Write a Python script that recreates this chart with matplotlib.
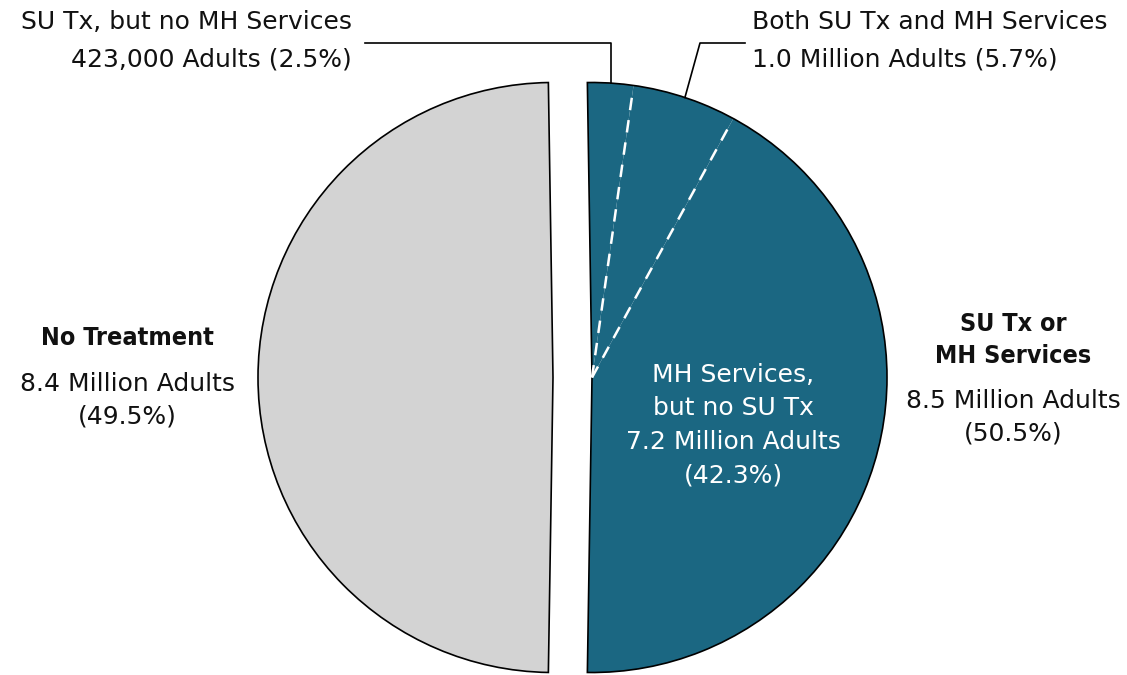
import numpy as np
import matplotlib
matplotlib.use('Agg')
import matplotlib.pyplot as plt
from matplotlib.patches import Wedge

plt.rcParams['font.family'] = ['DejaVu Sans']

# slices, clockwise from the top
labels = ['SU Tx, but no MH Services', 'Both SU Tx and MH Services',
          'MH Services, but no SU Tx', 'No Treatment']
counts = ['423,000 Adults', '1.0 Million Adults', '7.2 Million Adults', '8.4 Million Adults']
pcts = [2.5, 5.7, 42.3, 49.5]
group_label = 'SU Tx or\nMH Services'
group_count = '8.5 Million Adults'
group_pct = 50.5

teal = '#1b6782'
gray = '#d3d3d3'

W, H = 1127, 675
R = 295
cy = H - 377.5
teal_c = (592, cy)
gray_c = (553, cy)

fig = plt.figure(figsize=(W / 100, H / 100), dpi=100)
ax = fig.add_axes([0, 0, 1, 1])

start = 90 + 0.9
teal_frac = [p / 100 for p in pcts[:3]]
wt, _ = ax.pie(teal_frac, center=teal_c, radius=R, startangle=start, counterclock=False,
               normalize=False, colors=[teal] * 3, wedgeprops=dict(edgecolor='none'))
gray_start = start - 360 * group_pct / 100
wg, _ = ax.pie([pcts[3] / 100], center=gray_c, radius=R, startangle=gray_start,
               counterclock=False, normalize=False, colors=[gray],
               wedgeprops=dict(edgecolor='black', linewidth=1.2))

# outline round the whole teal group
ax.add_patch(Wedge(teal_c, R, start - 360 * group_pct / 100, start, fill=False,
                   edgecolor='black', linewidth=1.2))

# white dashed lines between the teal slices
cum = np.cumsum(pcts[:3])
for c in cum[:2]:
    a = np.deg2rad(start - 360 * c / 100)
    ax.plot([teal_c[0], teal_c[0] + (R - 4) * np.cos(a)],
            [teal_c[1], teal_c[1] + (R - 4) * np.sin(a)],
            color='white', lw=1.8, ls=(0, (5, 4)))

def px(y):
    return H - y

# leader lines
mids = start - 360 * (np.concatenate([[0], cum[:1]]) + np.array(pcts[:2]) / 2) / 100
pts = [(teal_c[0] + R * np.cos(np.deg2rad(m)), teal_c[1] + R * np.sin(np.deg2rad(m))) for m in mids]
ax.plot([pts[0][0], pts[0][0], 365], [pts[0][1], px(43), px(43)], color='black', lw=1.2)
ax.plot([pts[1][0], 700, 745], [pts[1][1], px(43), px(43)], color='black', lw=1.2)

fs = 18
ink = '#111111'
ax.text(352, px(22), labels[0], ha='right', va='center', fontsize=fs, color=ink)
ax.text(352, px(60), '%s (%.1f%%)' % (counts[0], pcts[0]), ha='right', va='center',
        fontsize=fs, color=ink)
ax.text(752, px(22), labels[1], ha='left', va='center', fontsize=fs, color=ink)
ax.text(752, px(60), '%s (%.1f%%)' % (counts[1], pcts[1]), ha='left', va='center',
        fontsize=fs, color=ink)

ax.text(733, px(425), '%s\n%s\n(%.1f%%)' % (labels[2].replace(', ', ',\n'), counts[2], pcts[2]),
        ha='center', va='center', fontsize=fs, color='white', linespacing=1.5)

ax.text(127, px(338), labels[3], ha='center', va='center', fontsize=fs, fontweight='bold',
        fontstretch='condensed', color=ink)
ax.text(127, px(400), '%s\n(%.1f%%)' % (counts[3], pcts[3]), ha='center', va='center',
        fontsize=fs, color=ink, linespacing=1.45)

ax.text(1013, px(340), group_label, ha='center', va='center', fontsize=fs, fontweight='bold',
        fontstretch='condensed', color=ink, linespacing=1.45)
ax.text(1013, px(417), '%s\n(%.1f%%)' % (group_count, group_pct), ha='center', va='center',
        fontsize=fs, color=ink, linespacing=1.45)

ax.set_xlim(0, W)
ax.set_ylim(0, H)
ax.set_aspect('equal')
ax.axis('off')

fig.savefig('out.png', dpi=100)
